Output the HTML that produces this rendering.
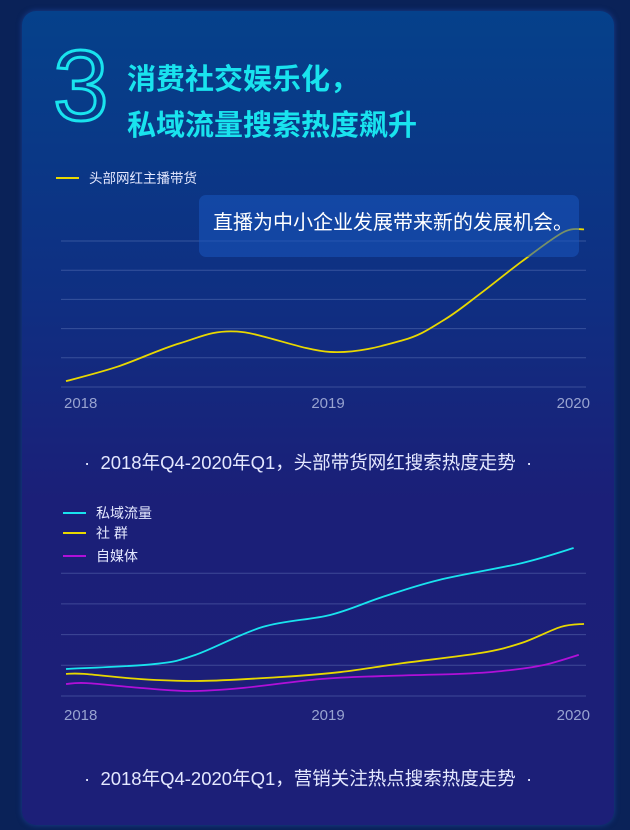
<!DOCTYPE html>
<html><head><meta charset="utf-8">
<style>
body{margin:0;width:630px;height:830px;overflow:hidden;background:#0a2258;font-family:"Liberation Sans","Noto Sans CJK SC",sans-serif;}
#card{position:absolute;left:22px;top:11px;width:592px;height:814px;border-radius:14px;background:linear-gradient(180deg,#05418b 0%,#0f2f82 35%,#1b1f78 60%,#1c1f78 100%);box-shadow:0 0 6px rgba(40,90,200,.5);}
.t{position:absolute;white-space:nowrap;}
</style></head><body>
<div id="card"></div>
<div class="t" style="left:53px;top:36px;font-size:100px;font-weight:300;color:transparent;-webkit-text-stroke:3px #19e3ee;line-height:1;">3</div>
<div class="t" style="left:127px;top:56px;font-size:29px;font-weight:bold;color:#19e3ee;">消费社交娱乐化，</div>
<div class="t" style="left:127px;top:102px;font-size:29px;font-weight:bold;color:#19e3ee;">私域流量搜索热度飙升</div>
<svg width="630" height="830" style="position:absolute;left:0;top:0">
<g id="c1"></g><g id="c2"></g>
</svg>
<div class="t" style="left:199px;top:195px;width:380px;height:62px;border-radius:7px;background:rgba(25,85,190,.55);"></div>
<div class="t" style="left:213px;top:206px;font-size:20px;color:#fff;">直播为中小企业发展带来新的发展机会。</div>
<div class="t" style="left:84px;top:449px;font-size:18.5px;color:#e4e8ff;">·&nbsp; 2018年Q4-2020年Q1，头部带货网红搜索热度走势 &nbsp;·</div>
<div class="t" style="left:84px;top:765px;font-size:18.5px;color:#e4e8ff;">·&nbsp; 2018年Q4-2020年Q1，营销关注热点搜索热度走势 &nbsp;·</div>
<script>
const xTicks=["2018","2019","2020"];
const c1Name="头部网红主播带货";
const c1T=[0,0.10,0.22,0.33,0.51,0.65,0.73,0.80,0.88,0.96,1.0];
const c1V=[0.2,0.7,1.5,1.9,1.2,1.6,2.3,3.2,4.3,5.3,5.4];
const c2Names=["私域流量","社 群","自媒体"];
const c2Colors=["#19e3ee","#e8d800","#b010d8"];
const cyanT=[0,0.17,0.25,0.38,0.51,0.61,0.72,0.88,0.98];
const cyanV=[0.88,1.04,1.34,2.25,2.64,3.22,3.78,4.33,4.82];
const yelT=[0,0.035,0.145,0.26,0.415,0.53,0.65,0.80,0.88,0.955,1.0];
const yelV=[0.72,0.72,0.55,0.49,0.62,0.78,1.07,1.4,1.73,2.25,2.35];
const purT=[0,0.04,0.145,0.24,0.34,0.49,0.61,0.76,0.84,0.92,0.99];
const purV=[0.39,0.42,0.26,0.16,0.26,0.55,0.65,0.72,0.81,1.0,1.34];
const NS="http://www.w3.org/2000/svg";
function mk(p,tag,a){const e=document.createElementNS(NS,tag);for(const k in a)e.setAttribute(k,a[k]);p.appendChild(e);return e;}
function path(pts){let d="M"+pts[0][0]+","+pts[0][1];for(let i=0;i<pts.length-1;i++){const p0=pts[Math.max(0,i-1)],p1=pts[i],p2=pts[i+1],p3=pts[Math.min(pts.length-1,i+2)];
d+=" C"+(p1[0]+(p2[0]-p0[0])/6)+","+(p1[1]+(p2[1]-p0[1])/6)+" "+(p2[0]-(p3[0]-p1[0])/6)+","+(p2[1]-(p3[1]-p1[1])/6)+" "+p2[0]+","+p2[1];}return d;}
function chart(g,base,step,n,labelY){
 const x=t=>66+t*518, y=v=>base-v*step;
 for(let i=0;i<n;i++){const l=mk(g,"line",{x1:61,x2:586,y1:y(i),y2:y(i),stroke:"rgba(130,150,210,.35)","stroke-width":1});
 
 }
 const anchors=["start","middle","end"],xs=[64,328,590];
 xTicks.forEach((s,i)=>{const t=mk(g,"text",{x:xs[i],y:labelY,"text-anchor":anchors[i],fill:"#98a3d0","font-size":15,"font-family":"Liberation Sans, sans-serif"});t.textContent=s;
 
 });
 return {x,y};
}
function series(g,ax,T,V,col,name){const p=mk(g,"path",{d:path(T.map((t,i)=>[ax.x(t),ax.y(V[i])])),fill:"none",stroke:col,"stroke-width":1.8});
 
 }
function legend(g,x,y,col,txt,fs){const l=mk(g,"line",{x1:x,x2:x+23,y1:y,y2:y,stroke:col,"stroke-width":2});
 
 
 const t=mk(g,"text",{x:x+33,y:y+5,fill:"#e4e8ff","font-size":fs,"font-family":"Liberation Sans, Noto Sans CJK SC, sans-serif"});t.textContent=txt;
 
 }
const g1=document.getElementById("c1"),g2=document.getElementById("c2");
const a1=chart(g1,387,29.2,6,408);
series(g1,a1,c1T,c1V,"#e8d800","line-livestream");
legend(g1,56,178,"#e8d800",c1Name,13.5);
const a2=chart(g2,696,30.7,5,720);
series(g2,a2,purT,purV,c2Colors[2],"line-self-media");
series(g2,a2,yelT,yelV,c2Colors[1],"line-community");
series(g2,a2,cyanT,cyanV,c2Colors[0],"line-private-traffic");
[513,533,556].forEach((yy,i)=>legend(g2,63,yy,c2Colors[i],c2Names[i],14));
</script>
</body></html>
